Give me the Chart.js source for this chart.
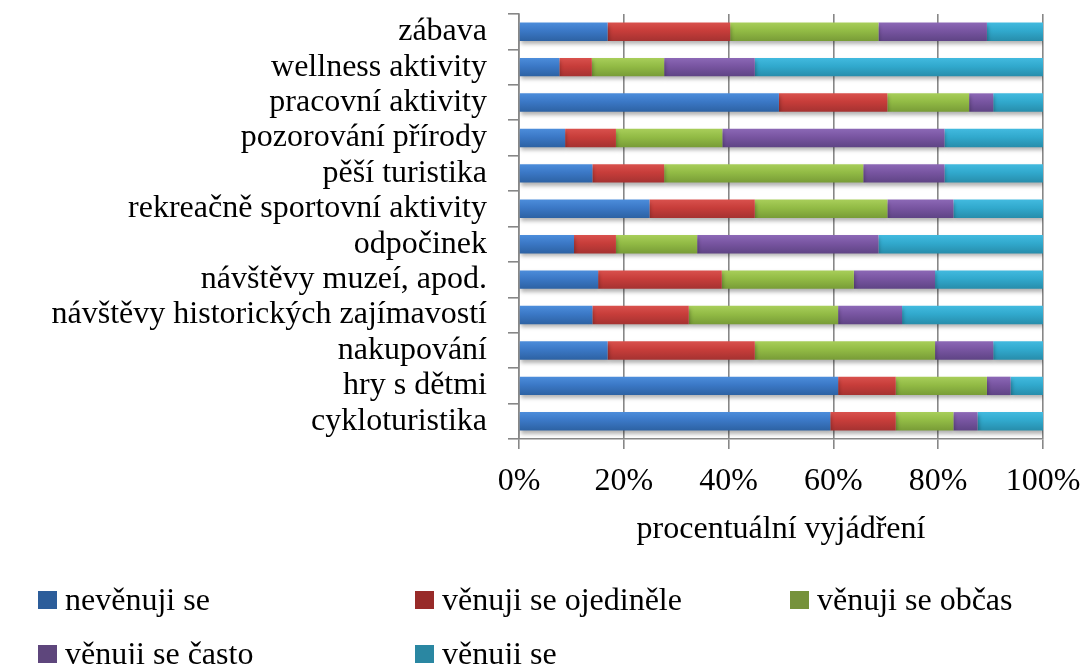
<!DOCTYPE html>
<html>
<head>
<meta charset="utf-8">
<script src="https://cdn.jsdelivr.net/npm/chart.js@4.4.0/dist/chart.umd.min.js"></script>
<style>
  html, body { margin: 0; padding: 0; background: #ffffff; }
  #wrap { width: 1087px; height: 664px; }
</style>
</head>
<body>
<div id="wrap"><canvas id="c" width="1087" height="664"></canvas></div>
<script>
// Activities, listed top to bottom
const categories = [
  'zábava',
  'wellness aktivity',
  'pracovní aktivity',
  'pozorování přírody',
  'pěší turistika',
  'rekreačně sportovní aktivity',
  'odpočinek',
  'návštěvy muzeí, apod.',
  'návštěvy historických zajímavostí',
  'nakupování',
  'hry s dětmi',
  'cykloturistika'
];

const seriesNames = ['nevěnuji se', 'věnuji se ojediněle', 'věnuji se občas', 'věnuji se často', 'věnuji se'];

// Share of respondents (%) per answer
const nevenujiSe      = [16.9,  7.7, 49.6,  8.8, 14.0, 24.9, 10.5, 15.1, 14.0, 16.9, 60.9, 59.4];
const venujiOjedinele = [23.4,  6.2, 20.7,  9.7, 13.7, 20.1,  8.0, 23.6, 18.4, 28.1, 11.0, 12.5];
const venujiObcas     = [28.3, 13.8, 15.6, 20.3, 38.0, 25.3, 15.5, 25.2, 28.5, 34.4, 17.4, 11.0];
const venujiCasto     = [20.7, 17.3,  4.6, 42.4, 15.5, 12.6, 34.6, 15.5, 12.2, 11.1,  4.5,  4.6];
const venujiSe        = [10.7, 55.0,  9.5, 18.8, 18.8, 17.1, 31.4, 20.6, 26.9,  9.5,  6.2, 12.5];

const tickLabels = ['0%', '20%', '40%', '60%', '80%', '100%'];
const axisTitle = 'procentuální vyjádření';

// bar gradients (top, middle, bottom) and flat legend swatches
const barShades = [
  ['#4c8ddb', '#3b78c6', '#2d62a3'],
  ['#d9514d', '#c73d3a', '#a53231'],
  ['#a8ce5a', '#92bb45', '#789c37'],
  ['#8c68b6', '#7855a1', '#5f4485'],
  ['#42badf', '#31a9cd', '#278dab']
];
const swatches = ['#2c5d9a', '#982b29', '#76923b', '#5e467c', '#2a87a2'];

const BAR_PCT = 0.52;
const FONT = "'Liberation Serif', 'Times New Roman', serif";

function barFill(shade) {
  return (ctx) => {
    const chart = ctx.chart;
    const ys = chart.scales && chart.scales.y;
    if (!ys || ctx.type !== 'data' || !ys.height) return shade[1];
    const yc = ys.getPixelForValue(ctx.dataIndex);
    const h = (ys.height / categories.length) * BAR_PCT;
    const g = chart.ctx.createLinearGradient(0, yc - h / 2, 0, yc + h / 2);
    g.addColorStop(0, shade[0]);
    g.addColorStop(0.45, shade[1]);
    g.addColorStop(1, shade[2]);
    return g;
  };
}

const seriesValues = [nevenujiSe, venujiOjedinele, venujiObcas, venujiCasto, venujiSe];

const datasets = seriesNames.map((name, i) => ({
  label: name,
  data: seriesValues[i],
  backgroundColor: barFill(barShades[i]),
  borderWidth: 0,
  barPercentage: BAR_PCT,
  categoryPercentage: 1.0
}));

// soft drop shadow under the bars
const barShadow = {
  id: 'barShadow',
  beforeDatasetsDraw(chart) {
    const c = chart.ctx;
    c.save();
    c.shadowColor = 'rgba(0,0,0,0.30)';
    c.shadowBlur = 4;
    c.shadowOffsetX = 1;
    c.shadowOffsetY = 3;
  },
  afterDatasetsDraw(chart) {
    chart.ctx.restore();
  }
};

// two-row legend laid out in fixed columns
const gridLegend = {
  id: 'gridLegend',
  afterDraw(chart) {
    const c = chart.ctx;
    const cols = [38, 415, 790];
    const rows = [600, 654];
    c.save();
    c.font = '32px ' + FONT;
    c.textBaseline = 'middle';
    c.textAlign = 'left';
    chart.data.datasets.forEach((ds, i) => {
      const x = cols[i % 3];
      const y = rows[Math.floor(i / 3)];
      c.fillStyle = swatches[i];
      c.fillRect(x, y - 9, 19, 18);
      c.fillStyle = '#000000';
      c.fillText(ds.label, x + 27, y + 2);
    });
    c.restore();
  }
};

Chart.defaults.font.family = FONT;
Chart.defaults.color = '#000000';

new Chart(document.getElementById('c'), {
  type: 'bar',
  data: { labels: categories, datasets },
  options: {
    indexAxis: 'y',
    responsive: false,
    animation: false,
    layout: { padding: { left: 0, top: 14, right: 44, bottom: 115 } },
    plugins: {
      legend: { display: false },
      tooltip: { enabled: false }
    },
    scales: {
      x: {
        stacked: true,
        min: 0,
        max: 100,
        ticks: {
          stepSize: 20,
          padding: 13,
          font: { size: 32 },
          color: '#000000',
          maxRotation: 0,
          callback: (v, i) => tickLabels[i]
        },
        grid: {
          color: '#878787',
          lineWidth: 1.6,
          drawTicks: true,
          tickLength: 10,
          tickColor: '#878787'
        },
        border: { color: '#878787', width: 1.6 },
        title: {
          display: true,
          text: axisTitle,
          font: { size: 32 },
          color: '#000000',
          padding: { top: 0, bottom: 0 }
        },
        afterFit: (s) => { s.height = 110; s.paddingLeft = 0; s.paddingRight = 0; }
      },
      y: {
        stacked: true,
        ticks: {
          padding: 21,
          autoSkip: false,
          font: { size: 32 },
          color: '#000000'
        },
        grid: {
          offset: true,
          drawOnChartArea: false,
          drawTicks: true,
          tickLength: 11,
          color: '#878787',
          lineWidth: 1.6
        },
        border: { color: '#878787', width: 1.6 },
        afterFit: (s) => { s.width = 519; s.paddingTop = 0; s.paddingBottom = 0; }
      }
    }
  },
  plugins: [barShadow, gridLegend]
});
</script>
</body>
</html>
